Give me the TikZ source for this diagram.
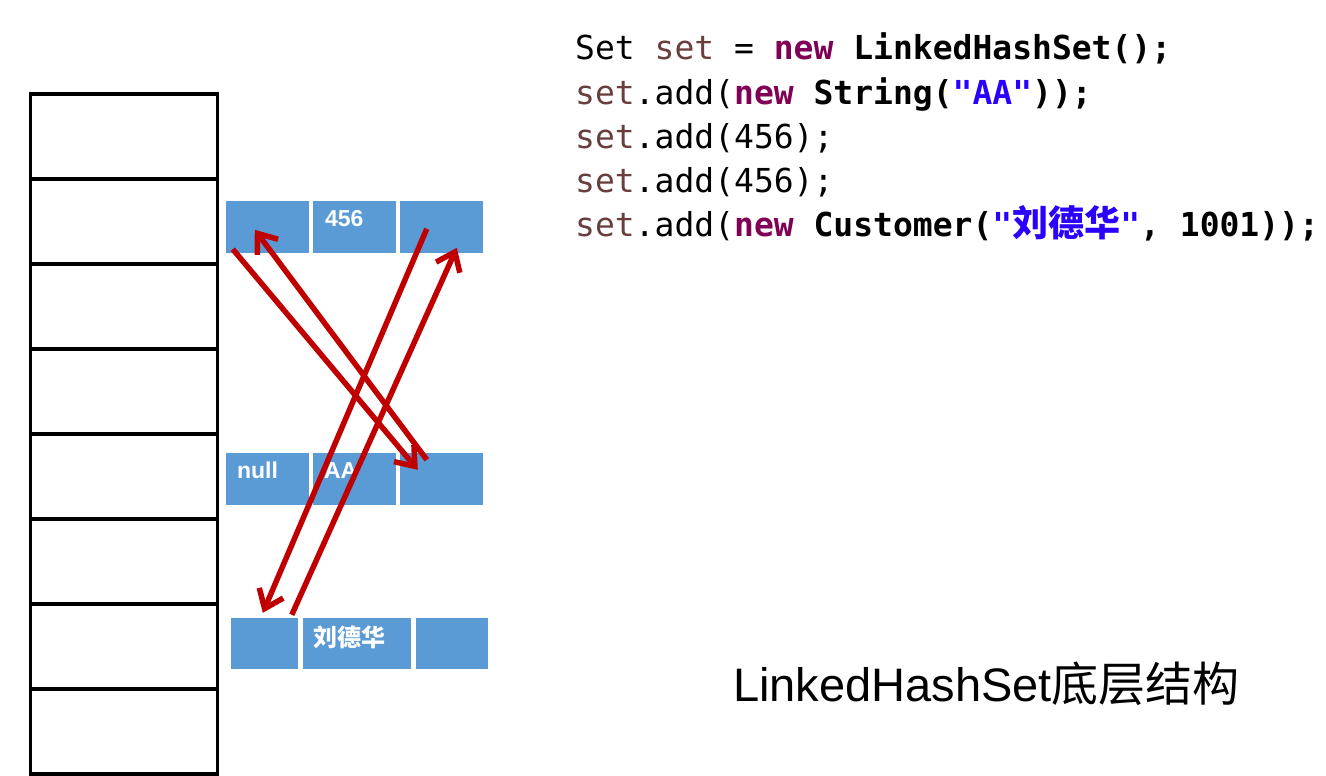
\documentclass[tikz,border=0pt]{standalone}
\usepackage{fontspec}
\setmainfont{Liberation Sans}
\newfontfamily\codefont{DejaVu Sans Mono}
\newfontfamily\cjkfont{Noto Sans CJK SC}
\usetikzlibrary{positioning,calc,arrows.meta}
\definecolor{cellblue}{HTML}{5B9BD5}
\definecolor{linkred}{HTML}{C00000}
\definecolor{varbrown}{HTML}{6A3E3E}
\definecolor{kwpurple}{HTML}{7F0055}
\definecolor{strblue}{HTML}{2A00FF}
\newcommand{\kw}[1]{{\bfseries\color{kwpurple}#1}}
\newcommand{\localvar}[1]{{\color{varbrown}#1}}
\newcommand{\strlit}[1]{{\bfseries\color{strblue}#1}}

\begin{document}
\begin{tikzpicture}[x=1pt,y=-1pt,
    slot/.style={draw,line width=3.6pt,minimum width=187pt,minimum height=85pt,inner sep=0pt},
    entry/.style={fill=cellblue,inner sep=0pt,minimum height=52pt},
    entrytext/.style={text=white,font=\fontsize{23}{23}\selectfont\bfseries,inner sep=0pt,anchor=base west},
    codeline/.style={font=\codefont\fontsize{33}{33}\selectfont,inner sep=0pt,anchor=base west},
    link/.style={linkred,line width=5.5pt,-{Straight Barb[length=17pt,width=26pt]}}]
    \path [use as bounding box,fill=white] (0,0) rectangle (1326,776);

    % table
    \foreach \i in {0,...,7}
      \node [slot] (slot\i) at (124,136.5+85*\i) {};

    % entries
    \node [entry,minimum width=83pt] (num-before) at (267.5,227) {};
    \node [entry,minimum width=83pt] (num-item) at (354.5,227) {};
    \node [entry,minimum width=83pt] (num-after) at (441.5,227) {};
    \node [entry,minimum width=83pt] (aa-before) at (267.5,479) {};
    \node [entry,minimum width=83pt] (aa-item) at (354.5,479) {};
    \node [entry,minimum width=83pt] (aa-after) at (441.5,479) {};
    \node [entry,minimum width=67pt,minimum height=51pt] (liu-before) at (264.5,643.5) {};
    \node [entry,minimum width=108pt,minimum height=51pt] (liu-item) at (357,643.5) {};
    \node [entry,minimum width=72pt,minimum height=51pt] (liu-after) at (452,643.5) {};

    \node [entrytext] (num-label) at ($(num-item.north west)+(12,26)$) {456};
    \node [entrytext] (null-label) at ($(aa-before.north west)+(11,26)$) {null};
    \node [entrytext] (aa-label) at ($(aa-item.north west)+(11,26)$) {AA};
    \node [entrytext,font=\cjkfont\fontsize{24}{24}\selectfont\bfseries] (liu-label) at ($(liu-item.north west)+(10,29)$) {刘德华};

    % links
    \coordinate (num-before-out) at ($(num-before.south west)+(7,-4)$);
    \coordinate (num-before-in) at ($(num-before.north west)+(29,29)$);
    \coordinate (num-after-out) at ($(num-after.north west)+(27,28)$);
    \coordinate (num-after-in) at ($(num-after.north west)+(57,47)$);
    \coordinate (aa-after-out) at ($(aa-after.north west)+(27,7)$);
    \coordinate (aa-after-in) at ($(aa-after.north west)+(18,17)$);
    \coordinate (liu-before-out) at ($(liu-before.north west)+(61,-3)$);
    \coordinate (liu-before-in) at ($(liu-before.north west)+(32,-5)$);

    \draw [link] (num-before-out) -- (aa-after-in);
    \draw [link] (aa-after-out) -- (num-before-in);
    \draw [link] (num-after-out) -- (liu-before-in);
    \draw [link] (liu-before-out) -- (num-after-in);

    % code
    \node [codeline] (code1) at (575,60) {Set \localvar{set} = \kw{new} \textbf{LinkedHashSet();}};
    \node [codeline] (code2) at (575,104) {\localvar{set}.add(\kw{new} \textbf{String(}\strlit{"AA"}\textbf{));}};
    \node [codeline] (code3) at (575,148) {\localvar{set}.add(456);};
    \node [codeline] (code4) at (575,192) {\localvar{set}.add(456);};
    \node [codeline] (code5) at (575,236) {\localvar{set}.add(\kw{new} \textbf{Customer(}\strlit{"{\cjkfont\fontsize{36}{36}\selectfont 刘德华}"}\textbf{, 1001));}};

    \node [font=\fontsize{47}{47}\selectfont,inner sep=0pt,anchor=base west] (caption) at (733,701) {LinkedHashSet{\cjkfont 底层结构}};
\end{tikzpicture}
\end{document}
